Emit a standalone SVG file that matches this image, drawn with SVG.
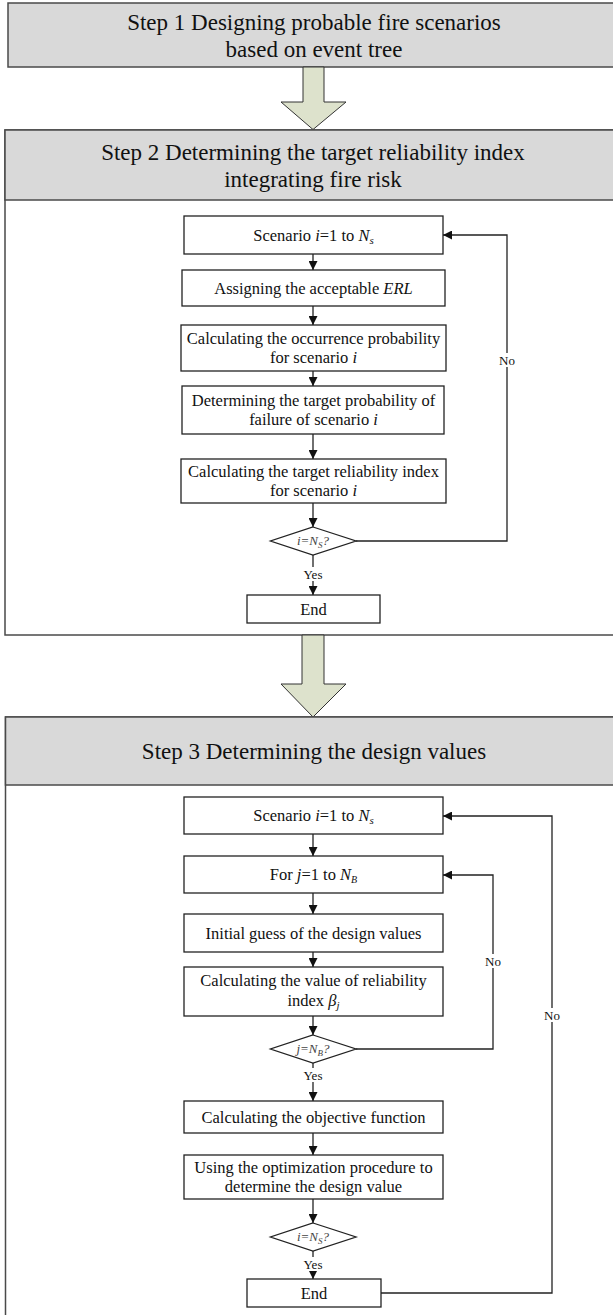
<svg xmlns="http://www.w3.org/2000/svg" width="613" height="1315" viewBox="0 0 613 1315">
<style>
.step{fill:#d9d9d9;stroke:#4a4a4a;stroke-width:1.5}
.frame{fill:#fff;stroke:#4a4a4a;stroke-width:1.5}
.big{fill:#dde2cc;stroke:#333;stroke-width:1}
.box{fill:#fff;stroke:#222;stroke-width:1.3}
.dia{fill:#fff;stroke:#222;stroke-width:1.3}
.h{font-family:"Liberation Serif","Times New Roman",serif;font-size:23px;fill:#111;text-anchor:middle}
.t{font-family:"Liberation Serif","Times New Roman",serif;font-size:16.5px;fill:#111;text-anchor:middle}
.d{font-family:"Liberation Serif","Times New Roman",serif;font-size:13px;font-style:italic;fill:#444;text-anchor:middle}
.l{font-family:"Liberation Serif","Times New Roman",serif;font-size:13px;fill:#111;text-anchor:middle}
.i{font-style:italic}
.c{fill:none;stroke:#222;stroke-width:1.3}
.lbg{fill:#fff;stroke:none}
</style>
<defs>
<marker id="ah" viewBox="0 0 10 10" refX="10" refY="5" markerUnits="userSpaceOnUse" markerWidth="9" markerHeight="9" orient="auto">
<path d="M0,0 L10,5 L0,10 z" fill="#111"/>
</marker>
</defs>

<!-- Step 1 -->
<g id="step1">
<rect class="step" x="8" y="3" width="610" height="64"/>
<text class="h" x="314" y="30">Step 1 Designing probable fire scenarios</text>
<text class="h" x="314" y="57">based on event tree</text>
</g>

<g id="arrow1">
<path class="big" d="M303,67 L324,67 L324,102 L346,102 L313,129.5 L281,102 L303,102 Z"/>
</g>

<!-- Step 2 -->
<g id="step2">
<rect class="frame" x="5" y="130" width="613" height="505"/>
<rect class="step" x="5" y="130" width="613" height="70"/>
<text class="h" x="313" y="160">Step 2 Determining the target reliability index</text>
<text class="h" x="313" y="187">integrating fire risk</text>
</g>

<g id="s2-scenario">
<rect class="box" x="184" y="216" width="259" height="38"/>
<text class="t" x="313.5" y="240.5">Scenario <tspan class="i">i</tspan>=1 to <tspan class="i">N</tspan><tspan class="i" font-size="11" dy="3">s</tspan></text>
</g>
<g id="s2-erl">
<rect class="box" x="182" y="270" width="263" height="36"/>
<text class="t" x="313.5" y="293.5">Assigning the acceptable <tspan class="i">ERL</tspan></text>
</g>
<g id="s2-occ">
<rect class="box" x="181" y="325" width="265" height="46"/>
<text class="t" x="313.5" y="343.5">Calculating the occurrence probability</text>
<text class="t" x="313.5" y="363">for scenario <tspan class="i">i</tspan></text>
</g>
<g id="s2-pf">
<rect class="box" x="182" y="386" width="262" height="48"/>
<text class="t" x="313.5" y="405.5">Determining the target probability of</text>
<text class="t" x="313.5" y="425">failure of scenario <tspan class="i">i</tspan></text>
</g>
<g id="s2-beta">
<rect class="box" x="181" y="459" width="265" height="44"/>
<text class="t" x="313.5" y="476.5">Calculating the target reliability index</text>
<text class="t" x="313.5" y="496">for scenario <tspan class="i">i</tspan></text>
</g>
<g id="s2-check">
<polygon class="dia" points="313,527 356,541 313,555 270.5,541"/>
<text class="d" x="313" y="545">i=N<tspan font-size="9" dy="3">S</tspan><tspan dy="-3">?</tspan></text>
</g>
<g id="s2-end">
<rect class="box" x="247" y="595" width="133" height="28"/>
<text class="t" x="313.5" y="614.5">End</text>
</g>

<g id="arrow2">
<path class="big" d="M302,635 L324,635 L324,684 L346,684 L313,717 L281,684 L302,684 Z"/>
</g>

<!-- Step 3 -->
<g id="step3">
<rect class="frame" x="5.5" y="717" width="613" height="610"/>
<rect class="step" x="5.5" y="717" width="613" height="68"/>
<text class="h" x="314" y="759">Step 3 Determining the design values</text>
</g>

<g id="s3-scenario">
<rect class="box" x="184" y="797" width="259" height="37"/>
<text class="t" x="313.5" y="821">Scenario <tspan class="i">i</tspan>=1 to <tspan class="i">N</tspan><tspan class="i" font-size="11" dy="3">s</tspan></text>
</g>
<g id="s3-forj">
<rect class="box" x="184" y="856" width="259" height="37"/>
<text class="t" x="313.5" y="880">For <tspan class="i">j</tspan>=1 to <tspan class="i">N</tspan><tspan class="i" font-size="10" dy="3">B</tspan></text>
</g>
<g id="s3-guess">
<rect class="box" x="184" y="914" width="259" height="38"/>
<text class="t" x="313.5" y="938.5">Initial guess of the design values</text>
</g>
<g id="s3-beta">
<rect class="box" x="184" y="967" width="259" height="49"/>
<text class="t" x="313.5" y="986">Calculating the value of reliability</text>
<text class="t" x="313.5" y="1006">index <tspan class="i">β</tspan><tspan class="i" font-size="11" dy="3">j</tspan></text>
</g>
<g id="s3-checkj">
<polygon class="dia" points="313,1035 356,1049 313,1063 270.5,1049"/>
<text class="d" x="313" y="1053">j=N<tspan font-size="9" dy="3">B</tspan><tspan dy="-3">?</tspan></text>
</g>
<g id="s3-obj">
<rect class="box" x="184" y="1101" width="259" height="32"/>
<text class="t" x="313.5" y="1122.5">Calculating the objective function</text>
</g>
<g id="s3-opt">
<rect class="box" x="184" y="1155" width="259" height="44"/>
<text class="t" x="313.5" y="1172.5">Using the optimization procedure to</text>
<text class="t" x="313.5" y="1192">determine the design value</text>
</g>
<g id="s3-checki">
<polygon class="dia" points="313,1223 356,1237 313,1251 270.5,1237"/>
<text class="d" x="313" y="1241">i=N<tspan font-size="9" dy="3">S</tspan><tspan dy="-3">?</tspan></text>
</g>
<g id="s3-end">
<rect class="box" x="247" y="1279" width="134" height="28"/>
<text class="t" x="314" y="1298.5">End</text>
</g>

<!-- Connectors -->
<g id="connectors">
<line class="c" x1="313" y1="254" x2="313" y2="270" marker-end="url(#ah)"/>
<line class="c" x1="313" y1="306" x2="313" y2="325" marker-end="url(#ah)"/>
<line class="c" x1="313" y1="371" x2="313" y2="386" marker-end="url(#ah)"/>
<line class="c" x1="313" y1="434" x2="313" y2="459" marker-end="url(#ah)"/>
<line class="c" x1="313" y1="503" x2="313" y2="527" marker-end="url(#ah)"/>
<line class="c" x1="313" y1="555" x2="313" y2="595" marker-end="url(#ah)"/>
<rect class="lbg" x="302" y="567" width="22" height="14"/>
<text class="l" x="313" y="579">Yes</text>
<polyline class="c" points="356,541 507,541 507,235 443,235" marker-end="url(#ah)"/>
<rect class="lbg" x="499" y="353" width="16" height="14"/>
<text class="l" x="507" y="365">No</text>

<line class="c" x1="313" y1="834" x2="313" y2="856" marker-end="url(#ah)"/>
<line class="c" x1="313" y1="893" x2="313" y2="914" marker-end="url(#ah)"/>
<line class="c" x1="313" y1="952" x2="313" y2="967" marker-end="url(#ah)"/>
<line class="c" x1="313" y1="1016" x2="313" y2="1035" marker-end="url(#ah)"/>
<line class="c" x1="313" y1="1063" x2="313" y2="1101" marker-end="url(#ah)"/>
<rect class="lbg" x="302" y="1068" width="22" height="14"/>
<text class="l" x="313" y="1080">Yes</text>
<line class="c" x1="313" y1="1133" x2="313" y2="1155" marker-end="url(#ah)"/>
<line class="c" x1="313" y1="1199" x2="313" y2="1223" marker-end="url(#ah)"/>
<line class="c" x1="313" y1="1251" x2="313" y2="1279" marker-end="url(#ah)"/>
<rect class="lbg" x="302" y="1257" width="22" height="14"/>
<text class="l" x="313" y="1269">Yes</text>
<polyline class="c" points="356,1049 493,1049 493,875 443,875" marker-end="url(#ah)"/>
<rect class="lbg" x="485" y="954" width="16" height="14"/>
<text class="l" x="493" y="966">No</text>
<polyline class="c" points="381,1293 552,1293 552,816 443,816" marker-end="url(#ah)"/>
<rect class="lbg" x="544" y="1008" width="16" height="14"/>
<text class="l" x="552" y="1020">No</text>
</g>
</svg>
